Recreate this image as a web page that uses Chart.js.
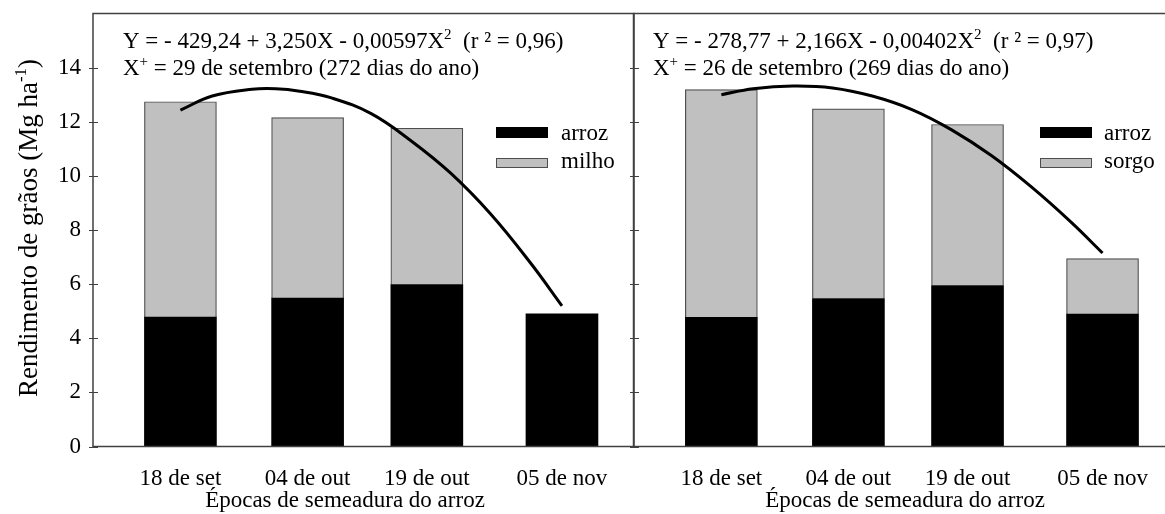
<!DOCTYPE html>
<html>
<head>
<meta charset="utf-8">
<script src="https://cdn.jsdelivr.net/npm/chart.js@4/dist/chart.umd.min.js"></script>
<style>
  html, body { margin: 0; padding: 0; background: #fff; overflow: hidden; width: 1165px; height: 514px; }
  #wrapL { position: absolute; left: 0; top: 0; width: 640px; height: 514px; }
  #wrapR { position: absolute; left: 614px; top: 0; width: 570px; height: 514px; }
</style>
</head>
<body>
<div id="wrapL"><canvas id="chartMilho"></canvas></div>
<div id="wrapR"><canvas id="chartSorgo"></canvas></div>
<script>
// Sowing dates (day of year) and their labels
const sowingDays = [261, 277, 292, 309];
const sowingLabels = ['18 de set', '04 de out', '19 de out', '05 de nov'];
const yTicks = [0, 2, 4, 6, 8, 10, 12, 14];

// Grain yield (Mg/ha) – rice + maize system
const arrozMilho = [4.78, 5.48, 5.98, 4.90];
const milho = [7.96, 6.67, 5.78, null];

// Grain yield (Mg/ha) – rice + sorghum system
const arrozSorgo = [4.77, 5.47, 5.95, 4.89];
const sorgo = [8.42, 7.01, 5.95, 2.05];

// Fitted total-yield curves (day of year, Mg/ha)
const curveDaysMilho = [261, 265, 270, 273, 276, 280, 285, 290, 295, 300, 305, 309];
const curveMilho = [12.43, 12.95, 13.2, 13.22, 13.13, 12.88, 12.3, 11.3, 10.1, 8.6, 6.8, 5.2];
const curveDaysSorgo = [261, 265, 270, 275, 280, 285, 290, 295, 300, 305, 309];
const curveSorgo = [13.0, 13.22, 13.32, 13.25, 12.95, 12.45, 11.7, 10.75, 9.6, 8.3, 7.15];

const FONT = "'Liberation Serif', 'Times New Roman', serif";
const FRAME = '#404040';

function drawRuns(ctx, x, y, runs) {
  let cx = x;
  runs.forEach(([t, size, dy]) => {
    ctx.font = size + 'px ' + FONT;
    ctx.fillText(t, cx, y + dy);
    cx += ctx.measureText(t).width;
  });
  return cx - x;
}
function runsWidth(ctx, runs) {
  let w = 0;
  runs.forEach(([t, size]) => { ctx.font = size + 'px ' + FONT; w += ctx.measureText(t).width; });
  return w;
}

function panelPlugin(cfg) {
  return {
    id: 'panel_' + cfg.key,
    afterDraw(chart) {
      const ctx = chart.ctx, a = chart.chartArea, ys = chart.scales.y;
      ctx.save();
      // frame
      ctx.strokeStyle = FRAME;
      ctx.lineWidth = 1.5;
      ctx.strokeRect(a.left, a.top, a.right - a.left, a.bottom - a.top);
      // y tick marks crossing the axis
      ctx.lineWidth = 1.2;
      ctx.beginPath();
      yTicks.forEach(v => {
        const py = Math.round(ys.getPixelForValue(v)) + 0.5;
        ctx.moveTo(a.left - 4, py);
        ctx.lineTo(a.left + 5, py);
      });
      ctx.stroke();

      ctx.fillStyle = '#000';
      ctx.textBaseline = 'alphabetic';
      ctx.textAlign = 'left';
      // regression equation
      drawRuns(ctx, cfg.eqX, 48, cfg.eq1);
      drawRuns(ctx, cfg.eqX, 75, cfg.eq2);

      // legend
      const L = cfg.legend;
      ctx.fillStyle = '#000';
      ctx.fillRect(L.x, 127, 52, 11);
      ctx.fillStyle = '#c0c0c0';
      ctx.fillRect(L.x, 158, 52, 10);
      ctx.strokeStyle = '#4d4d4d';
      ctx.lineWidth = 1;
      ctx.strokeRect(L.x + 0.5, 158.5, 51, 9);
      ctx.fillStyle = '#000';
      ctx.font = '23px ' + FONT;
      ctx.fillText(L.t1, L.tx, 140);
      ctx.fillText(L.t2, L.tx, 168);

      // x axis title
      ctx.textAlign = 'center';
      ctx.fillText('Épocas de semeadura do arroz', cfg.titleX, 507);

      // y axis title (left panel only)
      if (cfg.yTitle) {
        const runs = [['Rendimento de grãos (Mg ha', 27, 0], ['-1', 17, -11], [')', 27, 0]];
        ctx.textAlign = 'left';
        ctx.translate(37, 228);
        ctx.rotate(-Math.PI / 2);
        const w = runsWidth(ctx, runs);
        drawRuns(ctx, -w / 2, 0, runs);
      }
      ctx.restore();
    }
  };
}

function makeChart(canvasId, arroz, other, otherLabel, cDays, cVals, cfg) {
  const barData = (vals) => sowingDays.map((d, i) => ({ x: d, y: vals[i] }));
  return new Chart(document.getElementById(canvasId), {
    type: 'bar',
    data: {
      datasets: [
        {
          type: 'line',
          label: 'ajuste',
          data: cDays.map((d, i) => ({ x: d, y: cVals[i] })),
          borderColor: '#000',
          borderWidth: 3,
          pointRadius: 0,
          tension: 0.4,
          fill: false,
          stack: 'curve',
          order: 0
        },
        {
          label: 'arroz',
          data: barData(arroz),
          backgroundColor: '#000',
          borderWidth: 0,
          barThickness: 72,
          stack: 'bars',
          order: 1
        },
        {
          label: otherLabel,
          data: barData(other),
          backgroundColor: '#c0c0c0',
          borderColor: '#4d4d4d',
          borderWidth: { top: 1.2, left: 1.2, right: 1.2, bottom: 0 },
          barThickness: 72,
          stack: 'bars',
          order: 2
        }
      ]
    },
    options: {
      responsive: true,
      maintainAspectRatio: false,
      animation: false,
      layout: { padding: { top: 13.5, bottom: 0, left: cfg.padLeft, right: cfg.padRight } },
      plugins: { legend: { display: false }, tooltip: { enabled: false } },
      scales: {
        x: {
          type: 'linear',
          stacked: true,
          min: 250,
          max: 318,
          offset: false,
          afterBuildTicks: (s) => { s.ticks = sowingDays.map(v => ({ value: v })); },
          afterFit: (s) => { s.height = 67.5; s.paddingLeft = 0; s.paddingRight = 0; },
          grid: { display: false, drawTicks: false },
          border: { display: false },
          ticks: {
            autoSkip: false,
            maxRotation: 0,
            padding: 19,
            color: '#000',
            font: { family: FONT, size: 23 },
            callback: (v) => sowingLabels[sowingDays.indexOf(v)] ?? ''
          }
        },
        y: {
          stacked: true,
          min: 0,
          max: 16,
          afterBuildTicks: (s) => { s.ticks = yTicks.map(v => ({ value: v })); },
          afterFit: (s) => { s.width = cfg.yWidth; s.paddingTop = 0; s.paddingBottom = 0; },
          grid: { display: false, drawTicks: false },
          border: { display: false },
          ticks: {
            display: cfg.showY,
            padding: 12,
            color: '#000',
            font: { family: FONT, size: 23 }
          }
        }
      }
    },
    plugins: [panelPlugin(cfg)]
  });
}

makeChart('chartMilho', arrozMilho, milho, 'milho', curveDaysMilho, curveMilho, {
  key: 'milho', padLeft: 0, padRight: 6.5, yWidth: 93, showY: true, yTitle: true,
  eqX: 123, titleX: 345,
  eq1: [['Y = - 429,24 + 3,250X - 0,00597X', 23, 0], ['2', 15, -9], ['  (r ² = 0,96)', 23, 0]],
  eq2: [['X', 23, 0], ['+', 15, -9], [' = 29 de setembro (272 dias do ano)', 23, 0]],
  legend: { x: 496, tx: 561, t1: 'arroz', t2: 'milho' }
});

makeChart('chartSorgo', arrozSorgo, sorgo, 'sorgo', curveDaysSorgo, curveSorgo, {
  key: 'sorgo', padLeft: 20, padRight: 10, yWidth: 0, showY: false, yTitle: false,
  eqX: 653 - 614, titleX: 905 - 614,
  eq1: [['Y = - 278,77 + 2,166X - 0,00402X', 23, 0], ['2', 15, -9], ['  (r ² = 0,97)', 23, 0]],
  eq2: [['X', 23, 0], ['+', 15, -9], [' = 26 de setembro (269 dias do ano)', 23, 0]],
  legend: { x: 1040 - 614, tx: 1104 - 614, t1: 'arroz', t2: 'sorgo' }
});
</script>
</body>
</html>
